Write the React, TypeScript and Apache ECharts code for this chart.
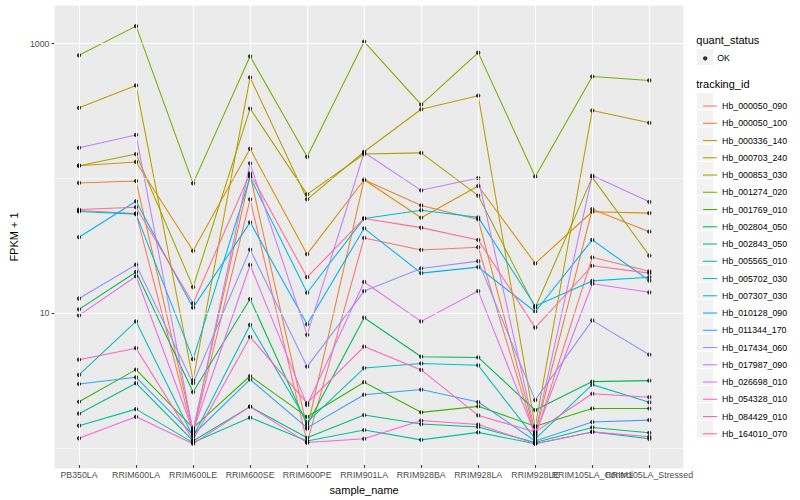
import React, { useEffect, useRef } from "react";
import * as echarts from "echarts";

const FONT = '"Liberation Sans", Arial, Helvetica, sans-serif';

// ---- data ----
const CATEGORIES = [
  "PB350LA", "RRIM600LA", "RRIM600LE", "RRIM600SE", "RRIM600PE", "RRIM901LA",
  "RRIM928BA", "RRIM928LA", "RRIM928LE", "RRIM105LA_Control", "RRIM105LA_Stressed",
];

const TRACKING_IDS = [
  "Hb_000050_090", "Hb_000050_100", "Hb_000336_140", "Hb_000703_240", "Hb_000853_030",
  "Hb_001274_020", "Hb_001769_010", "Hb_002804_050", "Hb_002843_050", "Hb_005565_010",
  "Hb_005702_030", "Hb_007307_030", "Hb_010128_090", "Hb_011344_170", "Hb_017434_060",
  "Hb_017987_090", "Hb_026698_010", "Hb_054328_010", "Hb_084429_010", "Hb_164010_070",
];

const COLORS = [
  "#F8766D", "#EA8331", "#D89000", "#C09B00", "#A3A500",
  "#7CAE00", "#39B600", "#00BB4E", "#00BF7D", "#00C1A3",
  "#00BFC4", "#00BAE0", "#00B0F6", "#35A2FF", "#9590FF",
  "#C77CFF", "#E76BF3", "#FA62DB", "#FF62BC", "#FF6C91",
];

// FPKM + 1 per sample, in CATEGORIES order
const HB_000050_090 = [56.4, 53.6, 1.23, 68.4, 1.04, 35.2, 28.6, 30.0, 1.15, 25.2, 19.8];
const HB_000050_100 = [90.6, 93.7, 1.29, 104, 1.32, 95.8, 61.5, 48.4, 1.21, 57.7, 39.2];
const HB_000336_140 = [122, 130, 28.2, 163, 26.6, 95.8, 49.8, 86.0, 22.7, 55.2, 53.9];
const HB_000703_240 = [330, 485, 3.04, 557, 68.4, 155, 322, 407, 1.36, 315, 255];
const HB_000853_030 = [122, 149, 15.1, 326, 74.5, 149, 152, 72.9, 10.6, 99.7, 26.0];
const HB_001274_020 = [815, 1346, 90, 801, 142, 1030, 349, 853, 101, 566, 529];
const HB_001769_010 = [2.10, 3.65, 1.34, 3.27, 1.62, 2.94, 1.75, 1.94, 1.38, 1.87, 1.87];
const HB_002804_050 = [10.3, 19.6, 2.48, 12.3, 1.41, 8.92, 4.56, 4.50, 1.82, 2.97, 3.02];
const HB_002843_050 = [1.71, 2.89, 1.07, 1.93, 1.13, 1.67, 1.43, 1.36, 1.04, 1.35, 1.23];
const HB_005565_010 = [1.39, 1.85, 1.04, 1.60, 1.07, 1.29, 1.09, 1.24, 1.02, 1.25, 1.11];
const HB_005702_030 = [3.33, 8.37, 1.15, 7.87, 1.48, 3.75, 4.06, 3.93, 1.11, 2.82, 2.08];
const HB_007307_030 = [55.5, 53.0, 4.37, 100, 13.7, 49.2, 56.7, 50.1, 10.9, 16.8, 17.9];
const HB_010128_090 = [35.6, 66.1, 10.6, 46.0, 7.96, 41.5, 19.2, 21.3, 9.88, 34.0, 16.9];
const HB_011344_170 = [2.85, 3.20, 1.19, 3.08, 1.34, 2.37, 2.59, 2.09, 1.07, 1.48, 1.53];
const HB_017434_060 = [12.4, 22.2, 2.89, 28.8, 3.84, 14.1, 20.8, 23.6, 2.16, 8.52, 4.72];
const HB_017987_090 = [166, 207, 1.25, 127, 6.64, 153, 79.8, 98.6, 1.23, 103, 65.5];
const HB_026698_010 = [9.28, 18.2, 1.27, 22.1, 1.98, 16.5, 8.37, 14.1, 1.19, 16.0, 13.8];
const HB_054328_010 = [1.12, 1.62, 1.02, 1.93, 1.04, 1.11, 1.52, 1.42, 1.02, 1.25, 1.15];
const HB_084429_010 = [4.33, 5.28, 1.09, 6.41, 2.05, 5.43, 3.63, 1.66, 1.25, 2.41, 2.27];
const HB_164010_070 = [57.4, 59.7, 11.4, 107, 17.9, 49.2, 42.0, 34.0, 7.52, 21.8, 19.2];

const SERIES_VALUES = [
  HB_000050_090, HB_000050_100, HB_000336_140, HB_000703_240, HB_000853_030,
  HB_001274_020, HB_001769_010, HB_002804_050, HB_002843_050, HB_005565_010,
  HB_005702_030, HB_007307_030, HB_010128_090, HB_011344_170, HB_017434_060,
  HB_017987_090, HB_026698_010, HB_054328_010, HB_084429_010, HB_164010_070,
];

const Y_TICKS = [10, 1000];
const GRID_MAJOR = [10, 1000];
const GRID_MINOR = [1, 100];
const Y_MIN = 0.706;
const Y_MAX = 1920;

// ---- layout ----
const W = 800;
const H = 500;
const PANEL_L = 44.8;
const PANEL_R = 683.5;
const PANEL_T = 5.5;
const PANEL_B = 468.5;
const UNIT = (PANEL_R - PANEL_L) / (CATEGORIES.length - 1 + 1.2);
const DATA_L = PANEL_L + 0.1 * UNIT;
const DATA_R = PANEL_R - 0.1 * UNIT;

const KEY_X = 696.3;
const KEY_W = 17.28;
const KEY_H = 17.25;
const TRACK_TOP = 92.4;
const OK_TOP = 48.4;

export default function App() {
  const ref = useRef<HTMLDivElement>(null);

  useEffect(() => {
    document.body.style.margin = "0";
    const chart = echarts.init(ref.current!, null, { renderer: "svg" });

    const lineSeries = TRACKING_IDS.map((id, i) => ({
      type: "line",
      name: id,
      xAxisIndex: 1,
      yAxisIndex: 1,
      data: SERIES_VALUES[i],
      symbol: "none",
      z: 2,
      silent: true,
      lineStyle: { color: COLORS[i], width: 1.07 },
      itemStyle: { color: COLORS[i] },
      emphasis: { disabled: true },
    }));

    const points: any[] = [];
    SERIES_VALUES.forEach((vals) => {
      vals.forEach((v, j) => points.push([CATEGORIES[j], v]));
    });

    const keyRects: any[] = [];
    keyRects.push({
      type: "rect",
      z: 1,
      shape: { x: KEY_X, y: OK_TOP, width: KEY_W, height: KEY_H },
      style: { fill: "#F2F2F2", stroke: "#FFFFFF", lineWidth: 1 },
    });
    TRACKING_IDS.forEach((_, i) => {
      keyRects.push({
        type: "rect",
        z: 1,
        shape: { x: KEY_X, y: TRACK_TOP + i * KEY_H, width: KEY_W, height: KEY_H },
        style: { fill: "#F2F2F2", stroke: "#FFFFFF", lineWidth: 1 },
      });
    });

    const option: any = {
      animation: false,
      color: COLORS,
      textStyle: { fontFamily: FONT },
      grid: [
        {
          left: PANEL_L,
          right: W - PANEL_R,
          top: PANEL_T,
          bottom: H - PANEL_B,
          show: true,
          backgroundColor: "#EBEBEB",
          borderWidth: 0,
        },
        {
          left: DATA_L,
          right: W - DATA_R,
          top: PANEL_T,
          bottom: H - PANEL_B,
        },
      ],
      xAxis: [
        { gridIndex: 0, type: "value", min: 0, max: 1, show: false },
        {
          gridIndex: 1,
          type: "category",
          data: CATEGORIES,
          boundaryGap: true,
          axisLine: { show: false },
          axisTick: {
            show: true,
            alignWithLabel: true,
            interval: 0,
            length: 2.75,
            lineStyle: { color: "#333333", width: 1.07 },
          },
          axisLabel: {
            interval: 0,
            margin: 5,
            color: "#4D4D4D",
            fontSize: 8.8,
            fontFamily: FONT,
          },
          splitLine: { show: false },
          name: "sample_name",
          nameLocation: "middle",
          nameGap: 14,
          nameTextStyle: { color: "#000000", fontSize: 11, fontFamily: FONT },
        },
      ],
      yAxis: [
        {
          gridIndex: 0,
          type: "log",
          logBase: 10,
          min: Y_MIN,
          max: Y_MAX,
          axisLine: { show: false },
          axisTick: {
            show: true,
            customValues: Y_TICKS,
            length: 2.75,
            lineStyle: { color: "#333333", width: 1.07 },
          },
          axisLabel: {
            customValues: Y_TICKS,
            margin: 5,
            color: "#4D4D4D",
            fontSize: 8.8,
            fontFamily: FONT,
            formatter: (v: number) => String(Math.round(v)),
          },
          splitLine: { show: false },
          name: "FPKM + 1",
          nameLocation: "middle",
          nameGap: 33,
          nameRotate: 90,
          nameTextStyle: { color: "#000000", fontSize: 11, fontFamily: FONT },
        },
        {
          gridIndex: 1,
          type: "log",
          logBase: 10,
          min: Y_MIN,
          max: Y_MAX,
          show: false,
          splitLine: { show: false },
        },
      ],
      legend: [
        {
          data: ["OK"],
          orient: "vertical",
          left: KEY_X + 1.73,
          top: OK_TOP + 0.45,
          itemWidth: 14,
          itemHeight: 4.3,
          icon: "circle",
          itemStyle: { color: "#000000" },
          selectedMode: false,
          z: 5,
          textStyle: { color: "#000000", fontSize: 8.8, fontFamily: FONT },
        },
        {
          data: TRACKING_IDS,
          orient: "vertical",
          left: KEY_X + 1.73,
          top: TRACK_TOP,
          itemWidth: 14,
          itemHeight: KEY_H,
          itemGap: 0,
          icon: "path://M0,0h14v1.07h-14z",
          selectedMode: false,
          z: 5,
          textStyle: { color: "#000000", fontSize: 8.8, fontFamily: FONT, lineHeight: KEY_H },
        },
      ],
      graphic: [
        ...keyRects,
        {
          type: "text",
          z: 1,
          x: KEY_X,
          y: 40.2,
          style: {
            text: "quant_status",
            fontSize: 11,
            fontFamily: FONT,
            fill: "#000000",
            verticalAlign: "middle",
          },
        },
        {
          type: "text",
          z: 1,
          x: KEY_X,
          y: 83.8,
          style: {
            text: "tracking_id",
            fontSize: 11,
            fontFamily: FONT,
            fill: "#000000",
            verticalAlign: "middle",
          },
        },
      ],
      series: [
        {
          type: "line",
          name: "gridH",
          xAxisIndex: 0,
          yAxisIndex: 0,
          data: [],
          z: 1,
          silent: true,
          markLine: {
            silent: true,
            symbol: ["none", "none"],
            label: { show: false },
            animation: false,
            data: [
              ...GRID_MAJOR.map((v) => ({
                yAxis: v,
                lineStyle: { color: "#FFFFFF", width: 1.07, type: "solid" },
              })),
              ...GRID_MINOR.map((v) => ({
                yAxis: v,
                lineStyle: { color: "#FFFFFF", width: 0.53, type: "solid" },
              })),
            ],
          },
        },
        {
          type: "line",
          name: "gridV",
          xAxisIndex: 1,
          yAxisIndex: 1,
          data: [],
          z: 1,
          silent: true,
          markLine: {
            silent: true,
            symbol: ["none", "none"],
            label: { show: false },
            animation: false,
            data: CATEGORIES.map((_, j) => ({
              xAxis: j,
              lineStyle: { color: "#FFFFFF", width: 1.07, type: "solid" },
            })),
          },
        },
        ...lineSeries,
        {
          type: "scatter",
          name: "OK",
          xAxisIndex: 1,
          yAxisIndex: 1,
          data: points,
          symbol: "circle",
          symbolSize: 4.3,
          z: 3,
          silent: true,
          itemStyle: { color: "#000000" },
        },
      ],
    };

    chart.setOption(option);
    return () => chart.dispose();
  }, []);

  return <div ref={ref} style={{ width: W, height: H }} />;
}
